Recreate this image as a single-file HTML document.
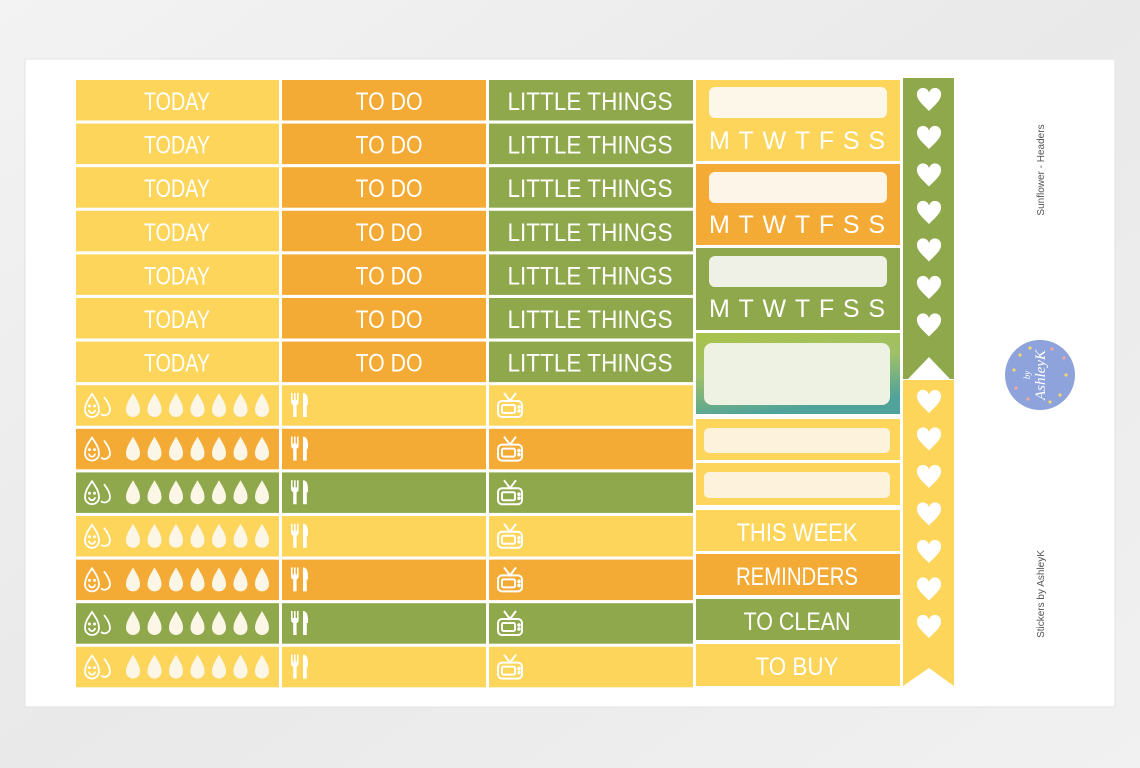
<!DOCTYPE html>
<html><head><meta charset="utf-8"><style>
html,body{margin:0;padding:0;width:1140px;height:768px;overflow:hidden;background:#ededed;}
svg{display:block}
.t{font-family:"Liberation Sans",sans-serif;font-size:25px;fill:#fff;text-anchor:middle;}
</style></head><body>
<svg width="1140" height="768" viewBox="0 0 1140 768" xmlns="http://www.w3.org/2000/svg">
<defs>
<linearGradient id="bg" x1="0" y1="0" x2="1" y2="1"><stop offset="0" stop-color="#f3f3f3"/><stop offset="0.5" stop-color="#e9e9e9"/><stop offset="1" stop-color="#f1f1f1"/></linearGradient>
<linearGradient id="gr" x1="0" y1="0" x2="0.3" y2="1"><stop offset="0" stop-color="#a9c24a"/><stop offset="0.5" stop-color="#9fc067"/><stop offset="1" stop-color="#4fa39a"/></linearGradient>
<path id="drop" d="M0,-13 C4,-6 7,-2 7,4 A7,7 0 0 1 -7,4 C-7,-2 -4,-6 0,-13Z" fill="#fbf6e6"/>
<g id="face" fill="none" stroke="#fff" stroke-width="1.8"><path d="M-8,-12 C-4,-6 -1,-2 -1,4 A7,7 0 0 1 -15,4 C-15,-2 -12,-6 -8,-12Z"/><path d="M4,-9 C8,-4 10,0 10,4 A5.5,5.5 0 0 1 1,8"/><path d="M-11,4 A3,3 0 0 0 -5,4"/><circle cx="-10.5" cy="0" r="0.6"/><circle cx="-5.5" cy="0" r="0.6"/></g>
<g id="fork" fill="#fff"><rect x="-9" y="-12" width="1.6" height="8"/><rect x="-6" y="-12" width="1.6" height="8"/><rect x="-3" y="-12" width="1.6" height="8"/><path d="M-9,-5 h7.6 v3 a3,3 0 0 1 -2,2 v12 h-3.4 v-12 a3,3 0 0 1 -2,-2z"/><path d="M3,-12 c4,0 5,4 5,9 v3 h-1.2 v12 h-3.8z"/></g>
<g id="tv" fill="none" stroke="#fff" stroke-width="2"><rect x="-12" y="-4" width="24" height="16" rx="4"/><rect x="-8" y="0" width="13" height="8" rx="1.5"/><path d="M-6,-12 L0,-4 L6,-12"/><circle cx="9" cy="2" r="0.8"/><circle cx="9" cy="6" r="0.8"/></g>
<path id="heart" d="M0,11 C-6,5 -12,0 -12,-5 A5.8,5.8 0 0 1 0,-7 A5.8,5.8 0 0 1 12,-5 C12,0 6,5 0,11Z" fill="#fff"/>
<g id="drops"><use href="#face" x="100" y="0"/><use href="#drop" x="133"/><use href="#drop" x="154.5"/><use href="#drop" x="176"/><use href="#drop" x="197.5"/><use href="#drop" x="219"/><use href="#drop" x="240.5"/><use href="#drop" x="262"/></g>
</defs>
<rect width="1140" height="768" fill="url(#bg)"/>
<rect x="25" y="59" width="1090" height="648" fill="#fff" stroke="#e2e2e2"/>

<!-- headers rows 0-6 -->
<g>
<rect x="76" y="80" width="203" height="40.5" fill="#fdd55a"/><rect x="282" y="80" width="204" height="40.5" fill="#f3ab35"/><rect x="489" y="80" width="204" height="40.5" fill="#8ea84b"/>
<rect x="76" y="123.6" width="203" height="40.5" fill="#fdd55a"/><rect x="282" y="123.6" width="204" height="40.5" fill="#f3ab35"/><rect x="489" y="123.6" width="204" height="40.5" fill="#8ea84b"/>
<rect x="76" y="167.2" width="203" height="40.5" fill="#fdd55a"/><rect x="282" y="167.2" width="204" height="40.5" fill="#f3ab35"/><rect x="489" y="167.2" width="204" height="40.5" fill="#8ea84b"/>
<rect x="76" y="210.8" width="203" height="40.5" fill="#fdd55a"/><rect x="282" y="210.8" width="204" height="40.5" fill="#f3ab35"/><rect x="489" y="210.8" width="204" height="40.5" fill="#8ea84b"/>
<rect x="76" y="254.4" width="203" height="40.5" fill="#fdd55a"/><rect x="282" y="254.4" width="204" height="40.5" fill="#f3ab35"/><rect x="489" y="254.4" width="204" height="40.5" fill="#8ea84b"/>
<rect x="76" y="298" width="203" height="40.5" fill="#fdd55a"/><rect x="282" y="298" width="204" height="40.5" fill="#f3ab35"/><rect x="489" y="298" width="204" height="40.5" fill="#8ea84b"/>
<rect x="76" y="341.6" width="203" height="40.5" fill="#fdd55a"/><rect x="282" y="341.6" width="204" height="40.5" fill="#f3ab35"/><rect x="489" y="341.6" width="204" height="40.5" fill="#8ea84b"/>
</g>
<g class="t">
<text x="177" y="110" textLength="66" lengthAdjust="spacingAndGlyphs">TODAY</text><text x="389" y="110" textLength="67" lengthAdjust="spacingAndGlyphs">TO DO</text><text x="590" y="110" textLength="165" lengthAdjust="spacingAndGlyphs">LITTLE THINGS</text>
<text x="177" y="153.6" textLength="66" lengthAdjust="spacingAndGlyphs">TODAY</text><text x="389" y="153.6" textLength="67" lengthAdjust="spacingAndGlyphs">TO DO</text><text x="590" y="153.6" textLength="165" lengthAdjust="spacingAndGlyphs">LITTLE THINGS</text>
<text x="177" y="197.2" textLength="66" lengthAdjust="spacingAndGlyphs">TODAY</text><text x="389" y="197.2" textLength="67" lengthAdjust="spacingAndGlyphs">TO DO</text><text x="590" y="197.2" textLength="165" lengthAdjust="spacingAndGlyphs">LITTLE THINGS</text>
<text x="177" y="240.8" textLength="66" lengthAdjust="spacingAndGlyphs">TODAY</text><text x="389" y="240.8" textLength="67" lengthAdjust="spacingAndGlyphs">TO DO</text><text x="590" y="240.8" textLength="165" lengthAdjust="spacingAndGlyphs">LITTLE THINGS</text>
<text x="177" y="284.4" textLength="66" lengthAdjust="spacingAndGlyphs">TODAY</text><text x="389" y="284.4" textLength="67" lengthAdjust="spacingAndGlyphs">TO DO</text><text x="590" y="284.4" textLength="165" lengthAdjust="spacingAndGlyphs">LITTLE THINGS</text>
<text x="177" y="328" textLength="66" lengthAdjust="spacingAndGlyphs">TODAY</text><text x="389" y="328" textLength="67" lengthAdjust="spacingAndGlyphs">TO DO</text><text x="590" y="328" textLength="165" lengthAdjust="spacingAndGlyphs">LITTLE THINGS</text>
<text x="177" y="371.6" textLength="66" lengthAdjust="spacingAndGlyphs">TODAY</text><text x="389" y="371.6" textLength="67" lengthAdjust="spacingAndGlyphs">TO DO</text><text x="590" y="371.6" textLength="165" lengthAdjust="spacingAndGlyphs">LITTLE THINGS</text>
</g>

<!-- icon rows 7-13 -->
<g>
<rect x="76" y="385.2" width="203" height="40.5" fill="#fdd55a"/><rect x="282" y="385.2" width="204" height="40.5" fill="#fdd55a"/><rect x="489" y="385.2" width="204" height="40.5" fill="#fdd55a"/>
<rect x="76" y="428.8" width="203" height="40.5" fill="#f3ab35"/><rect x="282" y="428.8" width="204" height="40.5" fill="#f3ab35"/><rect x="489" y="428.8" width="204" height="40.5" fill="#f3ab35"/>
<rect x="76" y="472.4" width="203" height="40.5" fill="#8ea84b"/><rect x="282" y="472.4" width="204" height="40.5" fill="#8ea84b"/><rect x="489" y="472.4" width="204" height="40.5" fill="#8ea84b"/>
<rect x="76" y="516" width="203" height="40.5" fill="#fdd55a"/><rect x="282" y="516" width="204" height="40.5" fill="#fdd55a"/><rect x="489" y="516" width="204" height="40.5" fill="#fdd55a"/>
<rect x="76" y="559.6" width="203" height="40.5" fill="#f3ab35"/><rect x="282" y="559.6" width="204" height="40.5" fill="#f3ab35"/><rect x="489" y="559.6" width="204" height="40.5" fill="#f3ab35"/>
<rect x="76" y="603.2" width="203" height="40.5" fill="#8ea84b"/><rect x="282" y="603.2" width="204" height="40.5" fill="#8ea84b"/><rect x="489" y="603.2" width="204" height="40.5" fill="#8ea84b"/>
<rect x="76" y="646.8" width="203" height="40.5" fill="#fdd55a"/><rect x="282" y="646.8" width="204" height="40.5" fill="#fdd55a"/><rect x="489" y="646.8" width="204" height="40.5" fill="#fdd55a"/>
</g>
<g>
<use href="#drops" y="406"/><use href="#fork" x="300" y="405"/><use href="#tv" x="510" y="405"/>
<use href="#drops" y="449.6"/><use href="#fork" x="300" y="448.6"/><use href="#tv" x="510" y="448.6"/>
<use href="#drops" y="493.2"/><use href="#fork" x="300" y="492.2"/><use href="#tv" x="510" y="492.2"/>
<use href="#drops" y="536.8"/><use href="#fork" x="300" y="535.8"/><use href="#tv" x="510" y="535.8"/>
<use href="#drops" y="580.4"/><use href="#fork" x="300" y="579.4"/><use href="#tv" x="510" y="579.4"/>
<use href="#drops" y="624"/><use href="#fork" x="300" y="623"/><use href="#tv" x="510" y="623"/>
<use href="#drops" y="667.6"/><use href="#fork" x="300" y="666.6"/><use href="#tv" x="510" y="666.6"/>
</g>

<!-- column 4 -->
<rect x="696" y="80" width="204" height="81" fill="#fdd55a"/>
<rect x="709" y="87" width="178" height="31" rx="6" fill="#fdf7e9"/>
<rect x="696" y="164" width="204" height="81" fill="#f3ab35"/>
<rect x="709" y="172" width="178" height="31" rx="6" fill="#fdf5e8"/>
<rect x="696" y="248" width="204" height="82" fill="#8ea84b"/>
<rect x="709" y="256" width="178" height="31" rx="6" fill="#eff0e6"/>
<g class="t" font-size="27">
<text x="797" y="149" textLength="176" lengthAdjust="spacing">MTWTFSS</text>
<text x="797" y="233" textLength="176" lengthAdjust="spacing">MTWTFSS</text>
<text x="797" y="317" textLength="176" lengthAdjust="spacing">MTWTFSS</text>
</g>
<rect x="696" y="333" width="204" height="81" fill="url(#gr)"/>
<rect x="704" y="343" width="186" height="62" rx="8" fill="#eef2e2"/>
<rect x="696" y="419" width="204" height="41" fill="#fdd55a"/>
<rect x="704" y="428" width="186" height="25" rx="5" fill="#fdf3dc"/>
<rect x="696" y="463" width="204" height="42" fill="#fdd55a"/>
<rect x="704" y="472" width="186" height="26" rx="5" fill="#fdf3dc"/>
<rect x="696" y="510" width="204" height="41" fill="#fdd55a"/>
<rect x="696" y="554" width="204" height="41" fill="#f3ab35"/>
<rect x="696" y="599" width="204" height="41" fill="#8ea84b"/>
<rect x="696" y="644" width="204" height="42" fill="#fdd55a"/>
<g class="t">
<text x="797" y="541" textLength="121" lengthAdjust="spacingAndGlyphs">THIS WEEK</text>
<text x="797" y="585" textLength="122" lengthAdjust="spacingAndGlyphs">REMINDERS</text>
<text x="797" y="630" textLength="107" lengthAdjust="spacingAndGlyphs">TO CLEAN</text>
<text x="797" y="675" textLength="83" lengthAdjust="spacingAndGlyphs">TO BUY</text>
</g>

<!-- heart strip -->
<rect x="903" y="78" width="51" height="301" fill="#8ea84b"/>
<path d="M908,379 L929,357 L950,379Z" fill="#fff"/>
<path d="M903,380 H954 V686 L929,668 L903,686Z" fill="#fdd55a"/>
<g>
<use href="#heart" x="929" y="100"/><use href="#heart" x="929" y="138"/><use href="#heart" x="929" y="175.5"/><use href="#heart" x="929" y="213"/><use href="#heart" x="929" y="250.5"/><use href="#heart" x="929" y="288"/><use href="#heart" x="929" y="325.5"/>
<use href="#heart" x="929" y="402"/><use href="#heart" x="929" y="439.5"/><use href="#heart" x="929" y="477"/><use href="#heart" x="929" y="514.5"/><use href="#heart" x="929" y="552"/><use href="#heart" x="929" y="589.5"/><use href="#heart" x="929" y="627"/>
</g>

<!-- side text and logo -->
<text transform="translate(1044,170) rotate(-90)" font-family="Liberation Sans,sans-serif" font-size="10" fill="#555" text-anchor="middle">Sunflower - Headers</text>
<text transform="translate(1044,594) rotate(-90)" font-family="Liberation Sans,sans-serif" font-size="10" fill="#555" text-anchor="middle">Stickers by AshleyK</text>
<circle cx="1040" cy="375" r="35" fill="#8ea3dc"/>
<g fill="#f6d66a"><circle cx="1014" cy="370" r="1.6"/><circle cx="1066" cy="375" r="1.6"/><circle cx="1020" cy="355" r="1.6"/><circle cx="1060" cy="395" r="1.6"/><circle cx="1030" cy="348" r="1.6"/><circle cx="1050" cy="402" r="1.6"/></g>
<g fill="#f0a8a0"><circle cx="1016" cy="388" r="1.6"/><circle cx="1064" cy="358" r="1.6"/><circle cx="1028" cy="399" r="1.6"/><circle cx="1052" cy="349" r="1.6"/></g>
<text transform="translate(1045,375) rotate(-90)" font-family="Liberation Serif,serif" font-style="italic" font-size="15" fill="#fff" text-anchor="middle">AshleyK</text>
<text transform="translate(1030,375) rotate(-90)" font-family="Liberation Serif,serif" font-style="italic" font-size="9" fill="#fff" text-anchor="middle">by</text>
</svg>
</body></html>
